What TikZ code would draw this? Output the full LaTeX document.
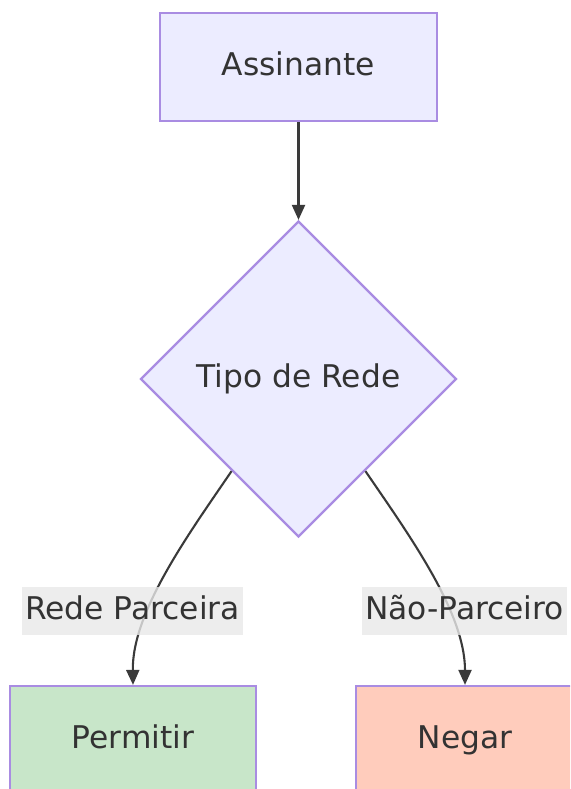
\documentclass[tikz,border=0pt]{standalone}
\usepackage{fontspec}
\setmainfont{DejaVu Sans}
\usetikzlibrary{shapes.geometric,arrows.meta}
\definecolor{nodefill}{HTML}{ECECFF}
\definecolor{nodeborder}{HTML}{A98CE2}
\definecolor{txt}{HTML}{333333}
\definecolor{linec}{HTML}{3A3A3A}
\definecolor{labelbg}{HTML}{E8E8E8}
\definecolor{okfill}{HTML}{C8E6C9}
\definecolor{nofill}{HTML}{FFCCBC}
\tikzset{
  basefont/.style={font=\fontsize{31.3}{36}\selectfont, text height=23.2pt, text depth=6.9pt},
  box/.style={draw=nodeborder, fill=nodefill, line width=2.2pt, rectangle, inner sep=0pt, text=txt, basefont},
  dia/.style={draw=nodeborder, fill=nodefill, line width=2.2pt, diamond, aspect=1, inner sep=0pt, minimum width=316pt, minimum height=316pt, text=txt, basefont},
  edge/.style={draw=linec, line width=2.1pt, -{Triangle[length=15pt,width=13pt]}},
  elabel/.style={fill=labelbg, fill opacity=0.8, text opacity=1, text=txt, inner xsep=3pt, inner ysep=0pt, minimum height=48pt, basefont}
}
\begin{document}
\begin{tikzpicture}[x=1pt,y=-1pt]
\useasboundingbox (0,0) rectangle (570,789);
\clip (0,0) rectangle (570,789);
\node[box, minimum width=277pt, minimum height=108pt] (a) at (298.5,67) {Assinante};
\node[dia] (b) at (298.5,379) {Tipo de Rede};
\node[box, fill=okfill, minimum width=246pt, minimum height=108pt] (c) at (133,740) {Permitir};
\node[box, fill=nofill, minimum width=218pt, minimum height=108pt] (d) at (465,740) {Negar};
\draw[edge] (a.south) -- (b.north);
\draw[edge] (b.234) .. controls (188,535) and (132,612) .. (c.north);
\draw[edge] (b.306) .. controls (409,535) and (465,612) .. (d.north);
\node[elabel] (l1) at (132.5,611) {Rede Parceira};
\node[elabel] (l2) at (464.5,611) {Não-Parceiro};
\end{tikzpicture}
\end{document}
